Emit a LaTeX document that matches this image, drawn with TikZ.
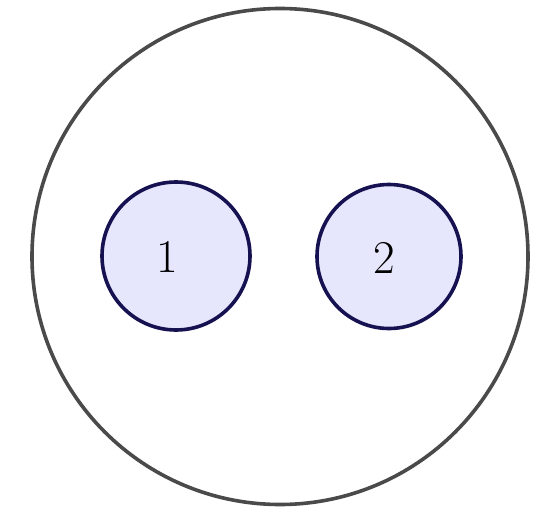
\documentclass[tikz,border=0pt]{standalone}
\definecolor{outergray}{RGB}{74,74,74}
\definecolor{navy}{RGB}{22,18,82}
\definecolor{lav}{RGB}{230,230,252}
\begin{document}
\begin{tikzpicture}[x=1pt,y=-1pt,
  outer/.style={circle,draw=outergray,line width=3.6pt,minimum size=496pt,inner sep=0pt},
  inner/.style={circle,draw=navy,fill=lav,line width=3.6pt,inner sep=0pt},
  lbl/.style={font=\fontsize{47}{56}\selectfont,inner sep=0pt}]
\useasboundingbox (0,0) rectangle (547,514);
\node[outer] (big) at (280,256.5) {};
\node[inner,minimum size=148pt] (c1) at (176,256) {};
\node[inner,minimum size=144pt] (c2) at (389,256.5) {};
\node[lbl] (t1) at (167,257) {1};
\node[lbl] (t2) at (384.5,257.5) {2};
\end{tikzpicture}
\end{document}
